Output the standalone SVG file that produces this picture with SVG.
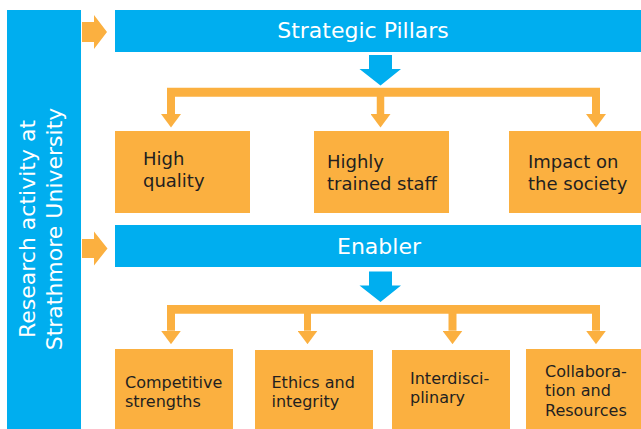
<svg xmlns="http://www.w3.org/2000/svg" width="641" height="429" viewBox="0 0 641 429">
  <style>
    .blue { fill: #00AEEF; }
    .orange { fill: #FBB040; }
    .conn { stroke: #FBB040; fill: none; }
    .hdr { font-family: "DejaVu Sans", sans-serif; font-size: 22px; fill: #FFFFFF; }
    .side { font-family: "DejaVu Sans", sans-serif; font-size: 22px; fill: #FFFFFF; text-anchor: middle; }
    .t1 { font-family: "DejaVu Sans", sans-serif; font-size: 18px; fill: #231F20; }
    .t2 { font-family: "DejaVu Sans", sans-serif; font-size: 16px; fill: #231F20; }
  </style>
  <defs>
    <marker id="ah" markerUnits="userSpaceOnUse" viewBox="0 0 13.5 20" refX="0" refY="10" markerWidth="13.5" markerHeight="20" orient="auto">
      <path d="M0,0 L13.5,10 L0,20 Z" fill="#FBB040"/>
    </marker>
  </defs>

  <rect width="641" height="429" fill="#FFFFFF"/>

  <g id="side-bar">
    <rect class="blue" x="7" y="10" width="74" height="419"/>
    <text class="side" transform="translate(34.5,229) rotate(-90)">Research activity at</text>
    <text class="side" transform="translate(61.5,229) rotate(-90)">Strathmore University</text>
  </g>

  <g id="strategic-pillars">
    <rect class="blue" x="115" y="10" width="526" height="42"/>
    <text class="hdr" x="363" y="38" text-anchor="middle">Strategic Pillars</text>
  </g>

  <g id="enabler">
    <rect class="blue" x="115" y="225" width="526" height="42"/>
    <text class="hdr" x="379" y="254" text-anchor="middle">Enabler</text>
  </g>

  <g id="high-quality">
    <rect class="orange" x="115" y="131" width="135" height="82"/>
    <text class="t1" x="143" y="165">High</text>
    <text class="t1" x="143" y="187">quality</text>
  </g>
  <g id="highly-trained-staff">
    <rect class="orange" x="314" y="131" width="135" height="82"/>
    <text class="t1" x="327" y="168">Highly</text>
    <text class="t1" x="327" y="190">trained staff</text>
  </g>
  <g id="impact-on-society">
    <rect class="orange" x="509" y="131" width="132" height="82"/>
    <text class="t1" x="528" y="168">Impact on</text>
    <text class="t1" x="528" y="190">the society</text>
  </g>

  <g id="competitive-strengths">
    <rect class="orange" x="115" y="349" width="118" height="80"/>
    <text class="t2" x="125" y="388">Competitive</text>
    <text class="t2" x="125" y="407">strengths</text>
  </g>
  <g id="ethics-integrity">
    <rect class="orange" x="255" y="350" width="118" height="79"/>
    <text class="t2" x="271.5" y="388">Ethics and</text>
    <text class="t2" x="271.5" y="407">integrity</text>
  </g>
  <g id="interdisciplinary">
    <rect class="orange" x="392" y="350" width="118" height="79"/>
    <text class="t2" x="410" y="384">Interdisci-</text>
    <text class="t2" x="410" y="403">plinary</text>
  </g>
  <g id="collaboration-resources">
    <rect class="orange" x="526" y="349" width="115" height="80"/>
    <text class="t2" x="545" y="376.5">Collabora-</text>
    <text class="t2" x="545" y="396">tion and</text>
    <text class="t2" x="545" y="415.5">Resources</text>
  </g>

  <g id="connectors">
    <polygon class="orange" points="82,22 94,22 94,15 107,32 94,49 94,42 82,42"/>
    <polygon class="orange" points="82,239 94,239 94,231.5 107.5,248.5 94,265.5 94,258 82,258"/>
    <polygon class="blue" points="369,55 392,55 392,69 401,69 380.5,85.5 359.5,69 369,69"/>
    <polygon class="blue" points="369,271.5 392,271.5 392,285.5 401,285.5 380.5,302 359.5,285.5 369,285.5"/>

    <line class="conn" x1="167" y1="92.3" x2="600" y2="92.3" stroke-width="9"/>
    <line class="conn" x1="171" y1="92" x2="171" y2="114" stroke-width="8" marker-end="url(#ah)"/>
    <line class="conn" x1="380.5" y1="92" x2="380.5" y2="114" stroke-width="7.5" marker-end="url(#ah)"/>
    <line class="conn" x1="596" y1="92" x2="596" y2="114" stroke-width="8" marker-end="url(#ah)"/>

    <line class="conn" x1="167" y1="309.3" x2="600" y2="309.3" stroke-width="8.7"/>
    <line class="conn" x1="171" y1="309" x2="171" y2="330.7" stroke-width="8" marker-end="url(#ah)"/>
    <line class="conn" x1="307.5" y1="309" x2="307.5" y2="330.7" stroke-width="7" marker-end="url(#ah)"/>
    <line class="conn" x1="452.5" y1="309" x2="452.5" y2="330.7" stroke-width="8" marker-end="url(#ah)"/>
    <line class="conn" x1="596" y1="309" x2="596" y2="330.7" stroke-width="8" marker-end="url(#ah)"/>
  </g>
</svg>
